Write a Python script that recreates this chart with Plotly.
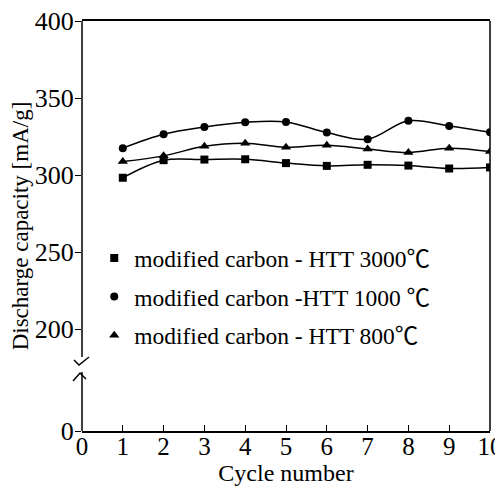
import plotly.graph_objects as go

# cycle numbers and discharge capacities [mA/g]
cycles = [1, 2, 3, 4, 5, 6, 7, 8, 9, 10]
htt_3000 = [298.3, 309.7, 310.1, 310.3, 307.8, 306.0, 306.7, 306.2, 304.3, 305.0]
htt_1000 = [317.5, 326.5, 331.2, 334.3, 334.5, 327.6, 323.3, 335.3, 331.9, 327.8]
htt_800 = [308.8, 312.5, 318.7, 320.7, 318.1, 319.4, 317.0, 314.7, 317.5, 315.3]

series_names = [
    "modified carbon - HTT 3000\u2103",
    "modified carbon -HTT 1000 \u2103",
    "modified carbon - HTT 800\u2103",
]
series_symbols = ["square", "circle", "triangle-up"]

# broken y axis: the "0" tick sits at the bottom of a compressed stretch
y_zero_pos = 134
y_ticks = [y_zero_pos, 200, 250, 300, 350, 400]
y_tick_labels = ["0", "200", "250", "300", "350", "400"]
x_ticks = list(range(0, 11))

FONT = "Liberation Serif, Noto Sans CJK JP, serif"

fig = go.Figure()

for name, values, symbol in zip(series_names, [htt_3000, htt_1000, htt_800], series_symbols):
    msize = 9 if symbol == "triangle-up" else 8
    fig.add_trace(go.Scatter(
        x=cycles, y=values, mode="lines+markers",
        line=dict(color="black", width=1.5, shape="spline", smoothing=1),
        marker=dict(symbol=symbol, size=msize, color="black"),
        showlegend=False,
    ))
    # marker-only entry for the legend
    fig.add_trace(go.Scatter(
        x=[None], y=[None], mode="markers", name=name, legendgroup=name,
        marker=dict(symbol=symbol, size=msize, color="black"),
    ))

# frame lines and the axis break (paper coords so they are not clipped)
axis_line = dict(color="black", width=1.5)
shapes = [
    dict(type="line", xref="paper", yref="paper", x0=0, x1=0, y0=1, y1=0.1805, line=axis_line),
    dict(type="line", xref="paper", yref="paper", x0=0, x1=0, y0=0.144, y1=0, line=axis_line),
    dict(type="line", xref="paper", yref="paper", x0=1, x1=1, y0=1, y1=0, line=axis_line),
    dict(type="path", xref="paper", yref="paper",
         path="M -0.0196,0.1732 L -0.0074,0.161 L 0.0172,0.1805", line=axis_line),
    dict(type="path", xref="paper", yref="paper",
         path="M -0.022,0.122 L -0.0049,0.1415 L 0.0098,0.127", line=axis_line),
]

# the page puts the plot 8px in from the top-left corner, so the figure is 8px smaller
fig.update_layout(
    width=495, height=484,
    margin=dict(l=74, r=13, t=13, b=61),
    paper_bgcolor="white", plot_bgcolor="white",
    font=dict(family=FONT, size=24, color="black"),
    shapes=shapes,
    showlegend=True,
    legend=dict(
        x=0.03, y=0.475, xanchor="left", yanchor="top",
        bgcolor="rgba(0,0,0,0)", borderwidth=0,
        font=dict(family=FONT, size=23.5),
        tracegroupgap=5, itemwidth=30,
    ),
    xaxis=dict(
        range=[0, 10], tickvals=x_ticks, ticks="inside", ticklen=6,
        tickwidth=1.2, tickcolor="black", showline=True, mirror=True,
        linecolor="black", linewidth=1.5, showgrid=False, zeroline=False,
        tickfont=dict(family=FONT, size=25), automargin=False,
        ticklabelstandoff=-8, ticklabeloverflow="allow",
        title=dict(text="Cycle number", font=dict(family=FONT, size=24), standoff=0),
    ),
    yaxis=dict(
        range=[y_zero_pos, 400], tickvals=y_ticks, ticktext=y_tick_labels,
        ticks="outside", ticklen=6, tickwidth=1.2, tickcolor="black",
        showline=False, showgrid=False, zeroline=False,
        tickfont=dict(family=FONT, size=26), automargin=False,
        ticklabelstandoff=-4, ticklabeloverflow="allow",
        title=dict(text="Discharge capacity [mA/g]", font=dict(family=FONT, size=23), standoff=4),
    ),
)

fig.write_html("out.html")
